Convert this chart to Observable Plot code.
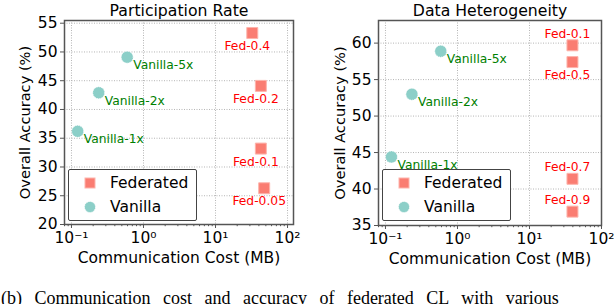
<!DOCTYPE html>
<html>
<head>
<meta charset="utf-8">
<script src="https://cdn.jsdelivr.net/npm/d3@7"></script>
<script src="https://cdn.jsdelivr.net/npm/@observablehq/plot@0.6"></script>
<style>
  html, body { margin: 0; padding: 0; background: #fff; }
  #wrap { position: relative; width: 614px; height: 304px; overflow: hidden; font-family: "DejaVu Sans", sans-serif; }
  #wrap svg { font-family: "DejaVu Sans", sans-serif !important; font-weight: normal !important; overflow: visible; }
  #wrap svg text { font-weight: normal !important; }
  #wrap svg g[aria-label="x-axis tick label"], #wrap svg g[aria-label="y-axis tick label"] { font-size: 15.5px !important; }
  #wrap svg g[aria-label="x-axis tick label"] text, #wrap svg g[aria-label="y-axis tick label"] text { font-size: 15.5px !important; }
  #wrap svg g[aria-label="title"] text { font-size: 15.7px !important; }
  #wrap svg g[aria-label="x label"] text { font-size: 15.5px !important; }
  #wrap svg g[aria-label="y label"] text { font-size: 14.6px !important; }
  #wrap svg g[aria-label="fed label"] text, #wrap svg g[aria-label="vanilla label"] text { font-size: 12.3px !important; }
  .panel { position: absolute; top: 0; }
  .legend { position: absolute; box-sizing: border-box; width: 129px; height: 52px; border: 1.5px solid #444; border-radius: 2px; background: #fff; }
  .legend .row { position: absolute; left: 0; height: 20px; display: flex; align-items: center; font-size: 15.5px; color: #000; }
  .legend .row svg { position: absolute; left: 11px; top: 0; }
  .legend .row span { position: absolute; left: 41px; white-space: nowrap; }
  #caption { position: absolute; left: 1px; top: 289px; font-family: "Liberation Serif", "DejaVu Serif", serif; font-size: 18px; line-height: 18px; word-spacing: 8px; white-space: nowrap; color: #000; }
</style>
</head>
<body>
<div id="wrap"></div>
<script>
// ---------- data ----------
const vanillaLabels = ["Vanilla-1x", "Vanilla-2x", "Vanilla-5x"];

// Panel 1: Participation Rate
const vanillaCostParticipation = [0.122, 0.239, 0.594];
const vanillaAccParticipation = [36.2, 42.9, 49.1];
const fedLabelsParticipation = ["Fed-0.4", "Fed-0.2", "Fed-0.1", "Fed-0.05"];
const fedCostParticipation = [32.4, 42.6, 42.6, 47.4];
const fedAccParticipation = [53.3, 44.1, 33.2, 26.3];

// Panel 2: Data Heterogeneity
const vanillaCostHeterogeneity = [0.121, 0.233, 0.586];
const vanillaAccHeterogeneity = [44.4, 53.0, 58.9];
const fedLabelsHeterogeneity = ["Fed-0.1", "Fed-0.5", "Fed-0.7", "Fed-0.9"];
const fedCostHeterogeneity = [39.5, 39.5, 39.5, 39.5];
const fedAccHeterogeneity = [59.7, 57.4, 41.4, 36.9];

// ticks
const xTickValues = [0.1, 1, 10, 100];
const xTickLabels = ["10⁻¹", "10⁰", "10¹", "10²"];
const yTicksParticipation = [20, 25, 30, 35, 40, 45, 50, 55];
const yTicksHeterogeneity = [35, 40, 45, 50, 55, 60];

const titles = ["Participation Rate", "Data Heterogeneity"];
const legendLabels = ["Federated", "Vanilla"];
const xLabel = "Communication Cost (MB)";
const yLabel = "Overall Accuracy (%)";
const captionText = "(b) Communication cost and accuracy of federated CL with various";

// ---------- styles ----------
const FED_FILL = "#fa7d72", FED_STROKE = "#fdb4ac";
const VAN_FILL = "#8ccfc8", VAN_STROKE = "#ffffff";
const SPINE = "#555";

const rows = (labels, xs, ys) => labels.map((label, i) => ({label, x: xs[i], y: ys[i]}));

// minor ticks of the log axis (2..9 within each decade)
function minorTicks(domain) {
  const out = [];
  for (let e = -2; e <= 2; e++) for (let m = 2; m <= 9; m++) {
    const v = m * Math.pow(10, e);
    if (v >= domain[0] && v <= domain[1]) out.push(v);
  }
  return out;
}

function panel(opts) {
  const {title, width, marginLeft, marginRight, marginBottom, xDomain, yDomain, yTicks, vanilla, fed, above, yLabelDx} = opts;
  const fedAbove = fed.filter(d => above.has(d.label));
  const fedBelow = fed.filter(d => !above.has(d.label));
  return Plot.plot({
    width, height: 270,
    marginTop: 20, marginLeft, marginRight, marginBottom,
    style: {fontFamily: "DejaVu Sans, sans-serif", fontSize: "15.5px", background: "transparent", color: "#000", overflow: "visible"},
    x: {type: "log", domain: xDomain},
    y: {domain: yDomain},
    marks: [
      Plot.gridX(xTickValues, {stroke: "#b5b5b5", strokeOpacity: 1, strokeDasharray: "1,1.5"}),
      Plot.gridY(yTicks, {stroke: "#b5b5b5", strokeOpacity: 1, strokeDasharray: "1,1.5"}),
      Plot.axisX(minorTicks(xDomain), {tickSize: 2.2, tickFormat: () => "", stroke: SPINE, label: null}),
      Plot.axisX(xTickValues, {
        tickSize: 4, tickPadding: 3.5, stroke: SPINE, fill: "#000", fontSize: 15.5,
        tickFormat: d => xTickLabels[xTickValues.indexOf(d)], label: null
      }),
      Plot.axisY(yTicks, {tickSize: 4, tickPadding: 3, stroke: SPINE, fill: "#000", fontSize: 15.5, label: null}),
      Plot.frame({stroke: SPINE, strokeWidth: 1.5}),
      Plot.dot(vanilla, {x: "x", y: "y", r: 6, fill: VAN_FILL, stroke: VAN_STROKE, strokeWidth: 1, strokeDasharray: "1,1"}),
      Plot.dot(fed, {x: "x", y: "y", symbol: "square", r: 6.2, fill: FED_FILL, stroke: FED_STROKE, strokeWidth: 1}),
      Plot.text(vanilla, {x: "x", y: "y", text: "label", dx: 6, dy: 8, textAnchor: "start", fill: "green", fontSize: 12.3, ariaLabel: "vanilla label"}),
      Plot.text(fedBelow, {x: "x", y: "y", text: "label", dx: -5, dy: 13, fill: "red", fontSize: 12.3, ariaLabel: "fed label"}),
      Plot.text(fedAbove, {x: "x", y: "y", text: "label", dx: -5, dy: -11.5, fill: "red", fontSize: 12.3, ariaLabel: "fed label"}),
      Plot.text([title], {frameAnchor: "top", lineAnchor: "middle", textAnchor: "middle", dy: -10, fontSize: 15.7, fill: "#000", ariaLabel: "title"}),
      Plot.text([xLabel], {frameAnchor: "bottom", lineAnchor: "middle", textAnchor: "middle", dy: 33.5, fontSize: 15.5, fill: "#000", ariaLabel: "x label"}),
      Plot.text([yLabel], {frameAnchor: "left", lineAnchor: "middle", textAnchor: "middle", rotate: -90, dx: yLabelDx, fontSize: 14.6, fill: "#000", ariaLabel: "y label"})
    ]
  });
}

function legend(left, top) {
  const box = document.createElement("div");
  box.className = "legend";
  box.style.left = left + "px";
  box.style.top = top + "px";
  const swatches = [
    `<svg width="20" height="20"><rect x="5" y="5" width="10" height="10" fill="${FED_FILL}" stroke="${FED_STROKE}" stroke-width="1"/></svg>`,
    `<svg width="20" height="20"><circle cx="10" cy="10" r="5.5" fill="${VAN_FILL}" stroke="${VAN_STROKE}" stroke-width="1" stroke-dasharray="1,1"/></svg>`
  ];
  legendLabels.forEach((lab, i) => {
    const r = document.createElement("div");
    r.className = "row";
    r.style.top = (i === 0 ? 3 : 27) + "px";
    r.innerHTML = swatches[i] + `<span>${lab}</span>`;
    box.appendChild(r);
  });
  return box;
}

const wrap = document.getElementById("wrap");

const p1 = panel({
  title: titles[0], width: 305, marginLeft: 64, marginRight: 12, marginBottom: 46,
  xDomain: [0.08, 121], yDomain: [20, 55.47], yTicks: yTicksParticipation,
  vanilla: rows(vanillaLabels, vanillaCostParticipation, vanillaAccParticipation),
  fed: rows(fedLabelsParticipation, fedCostParticipation, fedAccParticipation),
  above: new Set(), yLabelDx: -39
});
p1.classList.add("panel");
p1.style.left = "0px";
wrap.appendChild(p1);

const p2 = panel({
  title: titles[1], width: 309, marginLeft: 73, marginRight: 13, marginBottom: 45,
  xDomain: [0.08, 100], yDomain: [35, 63.1], yTicks: yTicksHeterogeneity,
  vanilla: rows(vanillaLabels, vanillaCostHeterogeneity, vanillaAccHeterogeneity),
  fed: rows(fedLabelsHeterogeneity, fedCostHeterogeneity, fedAccHeterogeneity),
  above: new Set(["Fed-0.1", "Fed-0.7", "Fed-0.9"]), yLabelDx: -38
});
p2.classList.add("panel");
p2.style.left = "305px";
wrap.appendChild(p2);

wrap.appendChild(legend(68, 169));
wrap.appendChild(legend(382, 169));

const cap = document.createElement("div");
cap.id = "caption";
cap.textContent = captionText;
wrap.appendChild(cap);
</script>
</body>
</html>
